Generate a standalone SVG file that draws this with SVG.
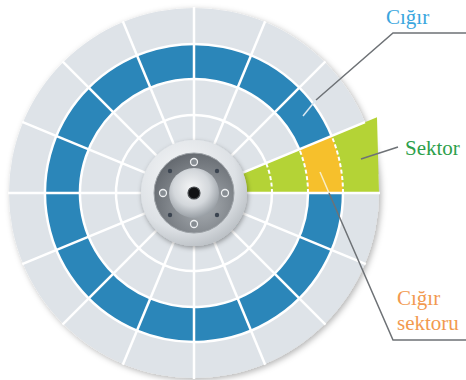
<svg xmlns="http://www.w3.org/2000/svg" xmlns:xlink="http://www.w3.org/1999/xlink" width="466" height="380" viewBox="0 0 466 380">
  <style>
    .ring { fill: none; stroke: #ffffff; stroke-width: 2.5; }
    .dash { fill: none; stroke: #ffffff; stroke-width: 2; stroke-dasharray: 4 2.5; }
    .spoke { stroke: #ffffff; stroke-width: 2.5; }
    .lead { fill: none; stroke: #6e7276; stroke-width: 1.5; }
    .lbl { font-family: "Liberation Serif", "Times New Roman", serif; font-size: 21px; }
  </style>
  <defs>
    <filter id="shadow" x="-10%" y="-10%" width="120%" height="120%">
      <feDropShadow dx="2" dy="2" stdDeviation="3" flood-color="#000" flood-opacity="0.3"/>
    </filter>
    <filter id="hubShadow" x="-20%" y="-20%" width="140%" height="140%">
      <feDropShadow dx="1" dy="2" stdDeviation="2.5" flood-color="#000" flood-opacity="0.35"/>
    </filter>
    <radialGradient id="hubOuter" cx="0.4" cy="0.35" r="0.7">
      <stop offset="0" stop-color="#f7f8f9"/>
      <stop offset="0.7" stop-color="#dde1e5"/>
      <stop offset="1" stop-color="#b9bec3"/>
    </radialGradient>
    <radialGradient id="hubDark" cx="0.6" cy="0.65" r="0.7">
      <stop offset="0" stop-color="#a9aeb3"/>
      <stop offset="1" stop-color="#62676d"/>
    </radialGradient>
    <radialGradient id="hubBoss" cx="0.45" cy="0.4" r="0.6">
      <stop offset="0" stop-color="#f4f5f6"/>
      <stop offset="0.6" stop-color="#d3d7db"/>
      <stop offset="1" stop-color="#9aa0a6"/>
    </radialGradient>
    <line id="spk" class="spoke" x1="247" y1="193" x2="380" y2="193"/>
  </defs>

  <!-- platter with its concentric bands -->
  <g id="platter">
    <circle cx="194" cy="193" r="185" fill="#dee3e8" filter="url(#shadow)"/>
  </g>

  <!-- the highlighted track -->
  <g id="track">
    <circle cx="194" cy="193" r="131.5" fill="none" stroke="#2b86b9" stroke-width="35"/>
  </g>

  <!-- one sector, clipped straight on its outer side -->
  <g id="sector">
    <path d="M247 193 L379 193 L377 117.2 L243 172.7 A53 53 0 0 1 247 193 Z" fill="#b4d336"/>
  </g>

  <!-- track sector (track x sector) -->
  <g id="track-sector">
    <path d="M308 193 L343 193 A149 149 0 0 0 331.66 135.98 L299.32 149.37 A114 114 0 0 1 308 193 Z" fill="#f6c02c"/>
  </g>

  <!-- band boundaries: solid outside the sector, dashed inside it -->
  <g id="grid">
    <path class="ring" d="M272 193 A78 78 0 1 1 266.06 163.15"/>
    <path class="ring" d="M308 193 A114 114 0 1 1 299.32 149.37"/>
    <path class="ring" d="M343 193 A149 149 0 1 1 331.66 135.98"/>
    <path class="dash" d="M272 193 A78 78 0 0 0 266.06 163.15"/>
    <path class="dash" d="M308 193 A114 114 0 0 0 299.32 149.37"/>
    <path class="dash" d="M343 193 A149 149 0 0 0 331.66 135.98"/>
    <use xlink:href="#spk"/>
    <use xlink:href="#spk" transform="rotate(22.5 194 193)"/>
    <use xlink:href="#spk" transform="rotate(45 194 193)"/>
    <use xlink:href="#spk" transform="rotate(67.5 194 193)"/>
    <use xlink:href="#spk" transform="rotate(90 194 193)"/>
    <use xlink:href="#spk" transform="rotate(112.5 194 193)"/>
    <use xlink:href="#spk" transform="rotate(135 194 193)"/>
    <use xlink:href="#spk" transform="rotate(157.5 194 193)"/>
    <use xlink:href="#spk" transform="rotate(180 194 193)"/>
    <use xlink:href="#spk" transform="rotate(202.5 194 193)"/>
    <use xlink:href="#spk" transform="rotate(225 194 193)"/>
    <use xlink:href="#spk" transform="rotate(247.5 194 193)"/>
    <use xlink:href="#spk" transform="rotate(270 194 193)"/>
    <use xlink:href="#spk" transform="rotate(292.5 194 193)"/>
    <use xlink:href="#spk" transform="rotate(315 194 193)"/>
    <line class="spoke" x1="243" y1="172.7" x2="365" y2="122.2" stroke-width="1.5"/>
  </g>

  <!-- spindle hub -->
  <g id="hub">
    <circle cx="194" cy="193" r="53" fill="url(#hubOuter)" filter="url(#hubShadow)"/>
    <circle cx="194" cy="193" r="40" fill="url(#hubDark)" stroke="#9ca1a6" stroke-width="1"/>
    <circle cx="194" cy="193" r="25" fill="url(#hubBoss)"/>
    <circle cx="194" cy="193" r="6" fill="#111214" stroke="#4a4e52" stroke-width="1.2"/>
    <g fill="#878d93" stroke="#eef0f2" stroke-width="1.3">
      <circle cx="194" cy="162" r="3.5"/>
      <circle cx="194" cy="224" r="3.5"/>
      <circle cx="163" cy="193" r="3.5"/>
      <circle cx="225" cy="193" r="3.5"/>
    </g>
    <g fill="#3b4450">
      <circle cx="170" cy="171" r="2.2"/>
      <circle cx="217" cy="171" r="2.2"/>
      <circle cx="170" cy="215" r="2.2"/>
      <circle cx="217" cy="215" r="2.2"/>
    </g>
  </g>

  <!-- leader lines -->
  <g id="leaders">
    <line x1="303" y1="116" x2="316" y2="100" stroke="#d9e8f2" stroke-width="1.5"/>
    <polyline class="lead" points="316,100 393,33 466,33"/>
    <line class="lead" x1="361" y1="159" x2="398" y2="147"/>
    <line x1="320" y1="172" x2="329" y2="193" stroke="#f8edc8" stroke-width="1.5"/>
    <polyline class="lead" points="329,193 393,340 466,340"/>
  </g>

  <!-- labels -->
  <g id="label-track">
    <text class="lbl" x="386" y="24" fill="#3aa6de">Cığır</text>
  </g>
  <g id="label-sector">
    <text class="lbl" x="405" y="155" fill="#2e9f4b">Sektor</text>
  </g>
  <g id="label-track-sector">
    <text class="lbl" x="397" y="305" fill="#f29a4f">Cığır</text>
    <text class="lbl" x="397" y="330" fill="#f29a4f">sektoru</text>
  </g>
</svg>
